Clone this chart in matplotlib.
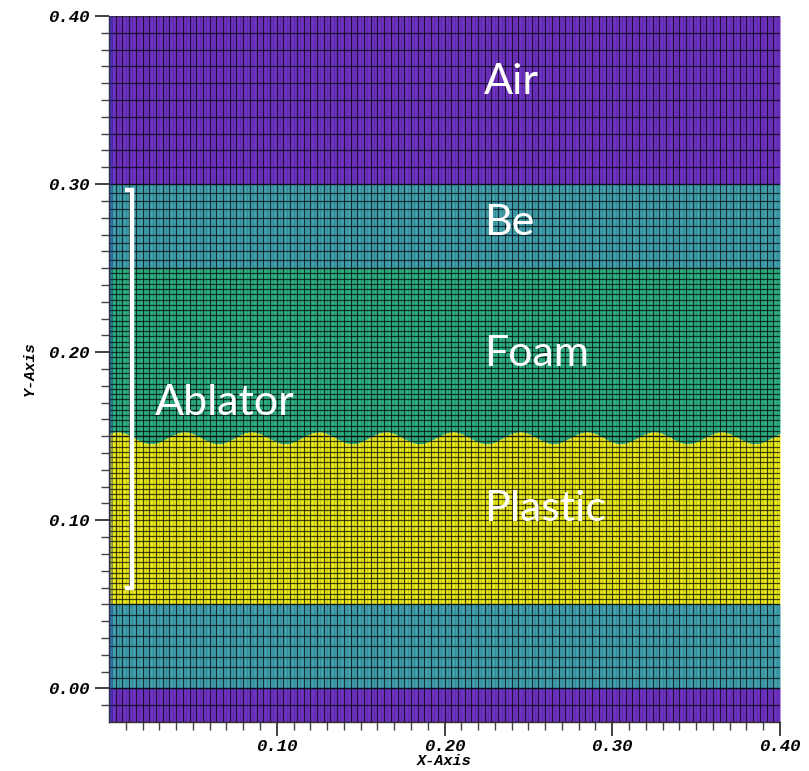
import numpy as np
import matplotlib
matplotlib.use("Agg")
import matplotlib.pyplot as plt

# ---- data ----
materials = ["Air", "Be", "Foam", "Plastic", "Be", "Air"]
layer_bottoms = [0.30, 0.25, 0.149, 0.05, 0.00, -0.02]
layer_tops = [0.40, 0.30, 0.25, 0.149, 0.05, 0.00]
layer_colors = ["#7133c6", "#42a3b1", "#2eb384", "#efee1c", "#42a3b1", "#7133c6"]
wave_center = 0.149
wave_amplitude = 0.0035
wave_length = 0.04
wave_phase = 0.045
# mesh cell sizes per layer (y spacing)
mesh_dy = [0.01, 0.005, 0.003125, 0.003125, 0.00625, 0.01]
mesh_dx = 0.004
x_ticks = [0.10, 0.20, 0.30, 0.40]
y_ticks = [0.00, 0.10, 0.20, 0.30, 0.40]
labels = ["Air", "Be", "Foam", "Plastic"]
label_x = [0.2235, 0.2235, 0.2235, 0.2235]
label_y = [0.361, 0.277, 0.199, 0.107]
ablator_top, ablator_bottom = 0.2965, 0.0595
ablator_x = 0.0135

fig = plt.figure(figsize=(8.09, 7.71), dpi=100)
ax = fig.add_axes([0.1347, 0.0636, 0.8295, 0.9156])
ax.set_xlim(0.0, 0.40)
ax.set_ylim(-0.02, 0.40)

xs = np.linspace(0, 0.40, 801)
wave = wave_center + wave_amplitude * np.cos(2 * np.pi * (xs - wave_phase) / wave_length)

for name, b, t, c in zip(materials, layer_bottoms, layer_tops, layer_colors):
    lo = np.full_like(xs, b)
    hi = np.full_like(xs, t)
    if name == "Foam":
        lo = wave
    if name == "Plastic":
        hi = wave
    ax.fill_between(xs, lo, hi, color=c, linewidth=0, zorder=1)

# mesh lines
xl = np.arange(0, 0.40 + 1e-9, mesh_dx)
ax.vlines(xl, -0.02, 0.40, colors="black", linewidth=0.9, alpha=0.7, zorder=2)
ax.vlines(xl[:-1] + mesh_dx / 2, -0.02, 0.40, colors="black", linewidth=1.0, alpha=0.15, zorder=2)
for b, t, dy in zip(layer_bottoms, layer_tops, mesh_dy):
    bb = 0.15 if abs(b - 0.149) < 1e-6 else b
    tt = 0.15 if abs(t - 0.149) < 1e-6 else t
    yl = np.arange(bb, tt + 1e-9, dy)
    ax.hlines(yl, 0, 0.40, colors="black", linewidth=0.9, alpha=0.7, zorder=2)
# left boundary column shading
ax.axvspan(0, 0.0025, color="#1a2a90", alpha=0.35, linewidth=0, zorder=3)

# labels
font_lbl = dict(family=["Lato", "DejaVu Sans"], color="white", fontsize=31)
for s, x, y in zip(labels, label_x, label_y):
    ax.text(x, y, s, ha="left", va="center", zorder=5, **font_lbl)
ax.text(0.0275, 0.17, "Ablator", ha="left", va="center", zorder=5, **font_lbl)

# bracket
ax.plot([ablator_x - 0.004, ablator_x, ablator_x, ablator_x - 0.004],
        [ablator_top, ablator_top, ablator_bottom, ablator_bottom],
        color="white", linewidth=3.2, solid_joinstyle="miter", solid_capstyle="butt", zorder=6)

# ticks
tick_font = dict(family="Liberation Mono", weight="bold", style="italic", size=12.5)
ax.set_xticks(x_ticks)
ax.set_xticklabels([f"{v:.2f}" for v in x_ticks], fontdict=tick_font)
ax.set_yticks(y_ticks)
ax.set_yticklabels([f"{v:.2f}" for v in y_ticks], fontdict=tick_font)
ax.set_xticks(np.arange(0.01, 0.40, 0.01), minor=True)
ax.set_yticks(np.arange(-0.01, 0.40, 0.01), minor=True)
ax.tick_params(which="major", length=10, width=1.2, direction="out", color="#222222")
ax.tick_params(axis="x", which="major", pad=2)
ax.tick_params(axis="y", which="major", pad=4)
ax.tick_params(which="minor", length=6, width=1.0, direction="out", color="#444444")
ax.set_xlabel("X-Axis", fontdict=dict(family="Liberation Mono", weight="bold", style="italic", size=11), labelpad=0)
ax.set_ylabel("Y-Axis", fontdict=dict(family="Liberation Mono", weight="bold", style="italic", size=11), labelpad=8)
for s in ax.spines.values():
    s.set_color("#333333")
    s.set_linewidth(1.0)
for s in ["top", "right"]:
    ax.spines[s].set_visible(False)

fig.savefig("out.png", dpi=100)
